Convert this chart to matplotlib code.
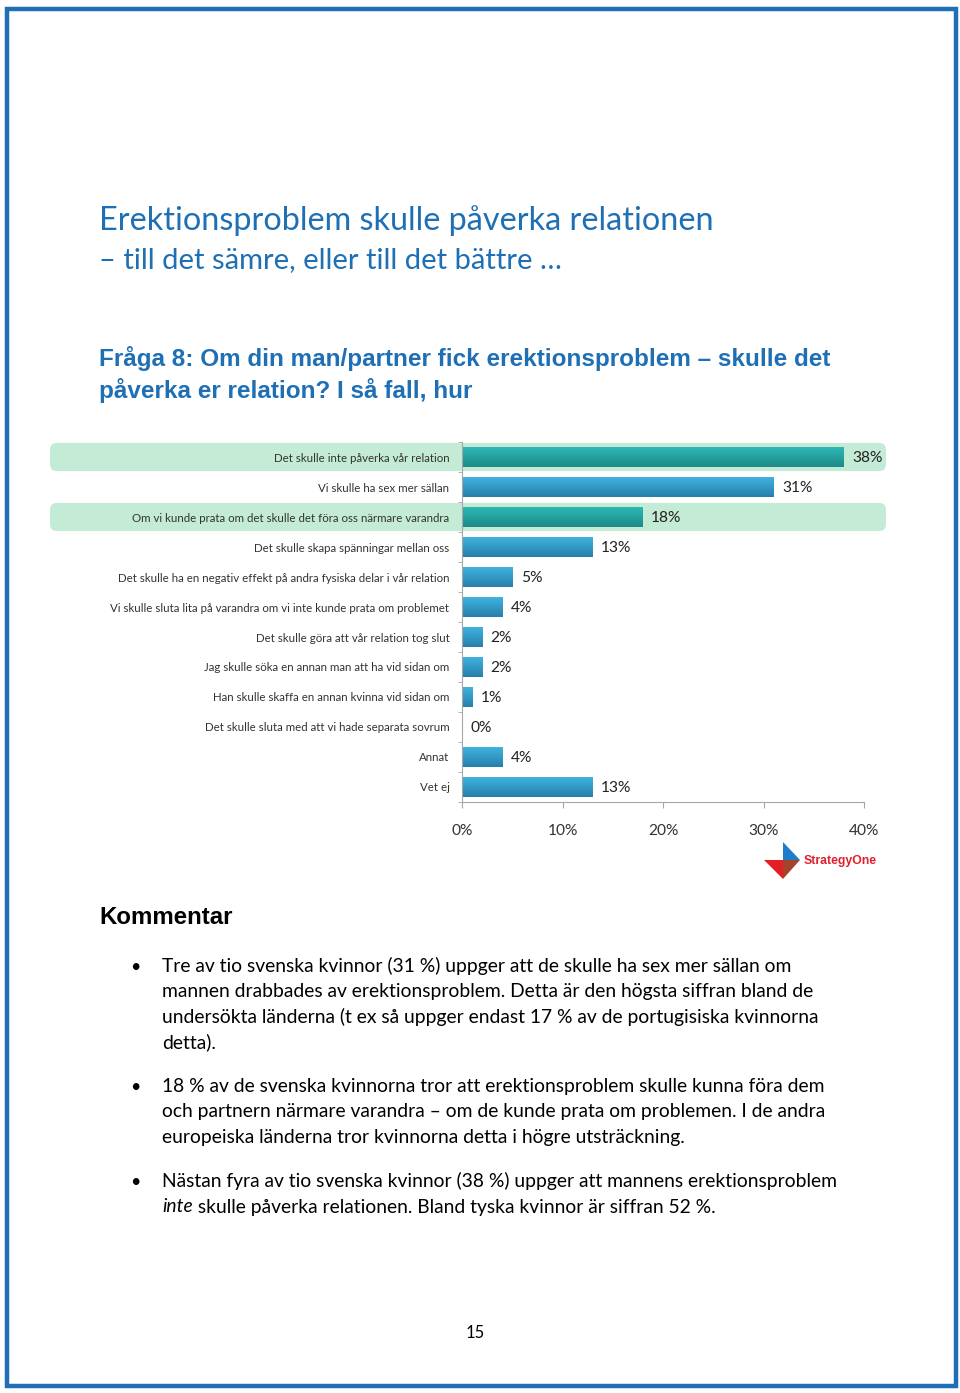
import matplotlib
matplotlib.use("Agg")
import matplotlib.pyplot as plt
import numpy as np
from matplotlib.patches import FancyBboxPatch, Polygon, Rectangle

# ---------------- data ----------------
categories = [
    "Det skulle inte påverka vår relation",
    "Vi skulle ha sex mer sällan",
    "Om vi kunde prata om det skulle det föra oss närmare varandra",
    "Det skulle skapa spänningar mellan oss",
    "Det skulle ha en negativ effekt på andra fysiska delar i vår relation",
    "Vi skulle sluta lita på varandra om vi inte kunde prata om problemet",
    "Det skulle göra att vår relation tog slut",
    "Jag skulle söka en annan man att ha vid sidan om",
    "Han skulle skaffa en annan kvinna vid sidan om",
    "Det skulle sluta med att vi hade separata sovrum",
    "Annat",
    "Vet ej",
]
values = [38, 31, 18, 13, 5, 4, 2, 2, 1, 0, 4, 13]
highlighted = [True, False, True, False, False, False, False, False, False, False, False, False]
x_ticks = [0, 10, 20, 30, 40]
x_tick_labels = ["0%", "10%", "20%", "30%", "40%"]

title_line1 = "Erektionsproblem skulle påverka relationen"
title_line2 = "– till det sämre, eller till det bättre …"
question_lines = ["Fråga 8: Om din man/partner fick erektionsproblem – skulle det",
                  "påverka er relation? I så fall, hur"]
comment_heading = "Kommentar"
# each line: list of (text, italic) segments
bullets = [
    [[("Tre av tio svenska kvinnor (31 %) uppger att de skulle ha sex mer sällan om", False)],
     [("mannen drabbades av erektionsproblem. Detta är den högsta siffran bland de", False)],
     [("undersökta länderna (t ex så uppger endast 17 % av de portugisiska kvinnorna", False)],
     [("detta).", False)]],
    [[("18 % av de svenska kvinnorna tror att erektionsproblem skulle kunna föra dem", False)],
     [("och partnern närmare varandra – om de kunde prata om problemen. I de andra", False)],
     [("europeiska länderna tror kvinnorna detta i högre utsträckning.", False)]],
    [[("Nästan fyra av tio svenska kvinnor (38 %) uppger att mannens erektionsproblem", False)],
     [("inte", True), (" skulle påverka relationen. Bland tyska kvinnor är siffran 52 %.", False)]],
]
page_number = "15"

# ---------------- figure ----------------
W, H = 960, 1393
fig = plt.figure(figsize=(W / 100, H / 100), dpi=100)
fig.patch.set_facecolor("white")

def fx(x):
    return x / W

def fy(y):
    return 1 - y / H

BLUE = "#1E6FB4"
BODY_FONT = ["Lato", "DejaVu Sans"]
ARIAL = ["Liberation Sans", "DejaVu Sans"]

# background axes in pixel coordinates (for border, logo)
bg = fig.add_axes([0, 0, 1, 1], zorder=0)
bg.set_xlim(0, W)
bg.set_ylim(H, 0)
bg.axis("off")
bg.add_patch(Rectangle((6.5, 8.5), 949, 1377, fill=False, edgecolor=BLUE, linewidth=3.2))

# ---------------- chart ----------------
ax_left, ax_right, ax_top, ax_bottom = 462, 864, 442, 802
ax = fig.add_axes([fx(ax_left), fy(ax_bottom), (ax_right - ax_left) / W, (ax_bottom - ax_top) / H], zorder=2)
ax.patch.set_alpha(0)
n = len(categories)
ypos = np.arange(n)
ax.set_xlim(0, 40)
ax.set_ylim(n - 0.5, -0.5)

# highlight bands (rounded) behind label + bar
px_per_x = (ax_right - ax_left) / 40.0
px_per_y = (ax_bottom - ax_top) / n
for i, hl in enumerate(highlighted):
    if hl:
        x0 = (50 - ax_left) / px_per_x
        x1 = (886 - ax_left) / px_per_x
        band_h = 0.94
        r = 7 / px_per_x
        p = FancyBboxPatch((x0, i - band_h / 2), x1 - x0, band_h,
                           boxstyle=f"round,pad=0,rounding_size={r}",
                           mutation_aspect=px_per_x / px_per_y,
                           facecolor="#C3EBD6", edgecolor="none",
                           transform=ax.transData, clip_on=False, zorder=0.5)
        ax.add_patch(p)

bar_colors = ["#27A9A8" if h else "#34A6D3" for h in highlighted]
bars = ax.barh(ypos, values, height=0.66, color=bar_colors, zorder=2, edgecolor="none")

# gradient overlay on bars
for b, h in zip(bars, highlighted):
    x, y = b.get_x(), b.get_y()
    w, hh = b.get_width(), b.get_height()
    if w <= 0:
        continue
    top = np.array([0.18, 0.72, 0.71]) if h else np.array([0.25, 0.70, 0.87])
    bot = np.array([0.11, 0.54, 0.53]) if h else np.array([0.15, 0.50, 0.67])
    t = np.linspace(0, 1, 50)[:, None]
    grad = top * (1 - t) + bot * t
    grad = grad[:, None, :]
    ax.imshow(grad, extent=(x, x + w, y + hh, y), aspect="auto", zorder=2.1,
              interpolation="bilinear")
ax.set_xlim(0, 40)
ax.set_ylim(n - 0.5, -0.5)

# value labels
for b, v in zip(bars, values):
    ax.annotate(f"{v}%", xy=(b.get_width(), b.get_y() + b.get_height() / 2),
                xytext=(6, -1), textcoords="offset points", va="center", ha="left",
                fontsize=11.2, color="#222222", family=BODY_FONT, zorder=3)

# axes styling
for s in ["top", "right"]:
    ax.spines[s].set_visible(False)
ax.spines["left"].set_color("#A6A6A6")
ax.spines["bottom"].set_color("#A6A6A6")
ax.spines["left"].set_linewidth(0.8)
ax.spines["bottom"].set_linewidth(0.8)
ax.set_yticks(ypos)
ax.set_yticklabels(categories, fontsize=8.3, color="#333333", family=BODY_FONT)
ax.tick_params(axis="y", which="major", length=0, pad=9)
ax.set_yticks(np.arange(-0.5, n, 1), minor=True)
ax.tick_params(axis="y", which="minor", length=3, color="#A6A6A6", direction="out")
ax.set_xticks(x_ticks)
ax.set_xticklabels(x_tick_labels, fontsize=11.2, color="#333333", family=BODY_FONT)
ax.tick_params(axis="x", length=4, color="#A6A6A6", pad=12)

# ---------------- logo ----------------
bg.add_patch(Polygon([(783, 842), (800, 860), (783, 860)], closed=True, facecolor="#1E7CC8", edgecolor="none"))
bg.add_patch(Polygon([(764, 860), (783, 860), (783, 879)], closed=True, facecolor="#E31E26", edgecolor="none"))
bg.add_patch(Polygon([(783, 860), (800, 860), (783, 879)], closed=True, facecolor="#A5432B", edgecolor="none"))
fig.text(fx(804), fy(861), "StrategyOne", fontsize=8.8, fontweight="bold", color="#E0202E",
         family=ARIAL, va="center", ha="left")

# ---------------- texts ----------------
fig.text(fx(99), fy(230), title_line1, fontsize=23.3, color=BLUE, family=BODY_FONT, va="baseline")
fig.text(fx(99), fy(268), title_line2, fontsize=21, color=BLUE, family=BODY_FONT, va="baseline")

for k, line in enumerate(question_lines):
    fig.text(fx(99), fy(366 + 32 * k), line, fontsize=17.5, fontweight="bold", color=BLUE,
             family=ARIAL, va="baseline")

fig.text(fx(99), fy(924), comment_heading, fontsize=17.3, fontweight="bold", color="black",
         family=ARIAL, va="baseline")

start_y = [972, 1092, 1187]
for para, y0 in zip(bullets, start_y):
    fig.text(fx(130), fy(y0), "•", fontsize=13, color="black", family=BODY_FONT, va="baseline")
    for j, segs in enumerate(para):
        prev = None
        for txt, ital in segs:
            style = "italic" if ital else "normal"
            if prev is None:
                prev = fig.text(fx(162), fy(y0 + 25.5 * j), txt, fontsize=13.85, color="black",
                                family=BODY_FONT, style=style, va="baseline")
            else:
                prev = fig.text(0, 0, txt, fontsize=13.85, color="black", family=BODY_FONT,
                                style=style, va="baseline")
                prev._segment_anchor = True
            segs_prev = prev
        # position follow-up segments after first draw
fig.canvas.draw()
renderer = fig.canvas.get_renderer()
# place continuation segments right after the preceding segment
texts = fig.texts
for k in range(1, len(texts)):
    t = texts[k]
    if getattr(t, "_segment_anchor", False):
        p = texts[k - 1]
        bb = p.get_window_extent(renderer)
        px, py = p.get_position()
        t.set_position((bb.x1 / W, py))

fig.text(fx(475), fy(1338), page_number, fontsize=12, color="black", family=BODY_FONT,
         va="baseline", ha="center")

fig.savefig("out.png", dpi=100, facecolor="white")
